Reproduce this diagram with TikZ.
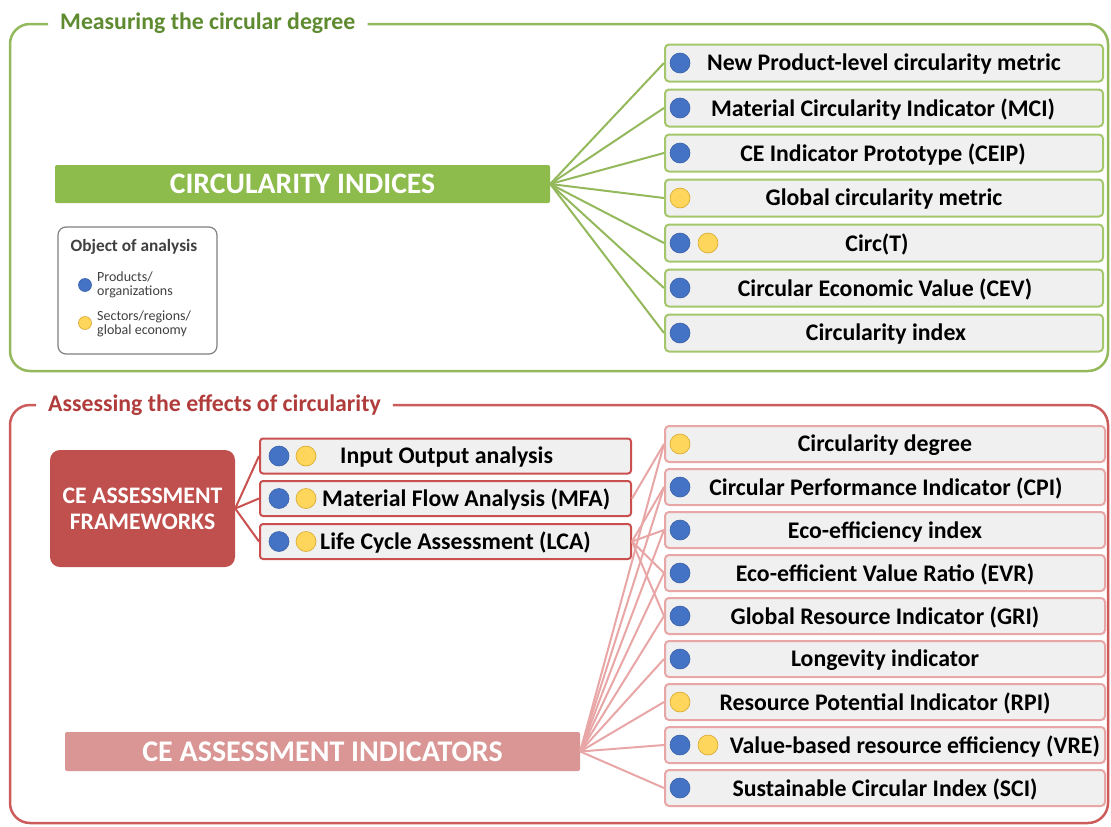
\documentclass[tikz,border=0pt]{standalone}
\usepackage{fontspec}
\setmainfont{Carlito}
\definecolor{gline}{HTML}{94B85C}
\definecolor{gtitle}{HTML}{5E8A30}
\definecolor{gfill}{HTML}{8DBB4C}
\definecolor{gbox}{HTML}{A3C76A}
\definecolor{boxfill}{HTML}{F0F0F0}
\definecolor{rline}{HTML}{CC5C5C}
\definecolor{rtitle}{HTML}{B03C3C}
\definecolor{rfill}{HTML}{C0504D}
\definecolor{rbox}{HTML}{C9504F}
\definecolor{pfill}{HTML}{D99694}
\definecolor{pline}{HTML}{E8A6A6}
\definecolor{dblue}{HTML}{4472C4}
\definecolor{dblueb}{HTML}{3A62A8}
\definecolor{dyellow}{HTML}{FFD65C}
\definecolor{dyellowb}{HTML}{D4A82A}
\definecolor{legtext}{HTML}{404040}
\begin{document}
\begin{tikzpicture}[x=1pt,y=-1pt,
  frametitle/.style={font=\fontsize{23.8}{26}\selectfont\bfseries, inner xsep=12pt, inner ysep=0pt, yshift=-1.5pt},
  gbx/.style={draw=gbox, fill=boxfill, line width=2pt, rounded corners=4pt, minimum width=438pt, minimum height=37pt, inner sep=0pt},
  pbx/.style={draw=pline, fill=boxfill, line width=2pt, rounded corners=4pt, minimum width=440pt, minimum height=36pt, inner sep=0pt},
  fbx/.style={draw=rbox, fill=boxfill, line width=2pt, rounded corners=3pt, minimum width=371pt, minimum height=35pt, inner sep=0pt},
  btxt/.style={font=\fontsize{23.8}{26}\selectfont\bfseries, text=black, inner sep=0pt, yshift=-1.5pt},
  bdot/.style={circle, fill=dblue, draw=dblueb, line width=0.6pt, minimum size=20pt, inner sep=0pt},
  ydot/.style={circle, fill=dyellow, draw=dyellowb, line width=0.6pt, minimum size=20pt, inner sep=0pt},
  gcon/.style={draw=gline, line width=2pt},
  pcon/.style={draw=pline, line width=2pt},
  rcon/.style={draw=rbox, line width=2pt},
]
\useasboundingbox (0,0) rectangle (1111,827);

% ---------- top frame ----------
\node[frametitle, text=gtitle, anchor=west] (t1) at (48,22) {Measuring the circular degree};
\draw[draw=gline, line width=2.5pt, rounded corners=20pt]
  (t1.west |- 0,24) -- (10,24) -- (10,371) -- (1108,371) -- (1108,24) -- (t1.east |- 0,24);

\node[fill=gfill, minimum width=495pt, minimum height=38pt, inner sep=0pt, rounded corners=2pt,
      text=white, font=\fontsize{29.7}{32}\selectfont\bfseries] (ci) at (302.5,184) {CIRCULARITY INDICES};

% legend
\node[draw=gray, line width=1.2pt, fill=white, rounded corners=8pt, minimum width=159pt, minimum height=127pt] (leg) at (137.5,290.5) {};
\node[font=\fontsize{17.3}{19}\selectfont\bfseries, text=legtext, inner sep=0pt] (legt) at (134,247) {Object of analysis};
\node[bdot, minimum size=13pt] (lb) at (85,285) {};
\node[ydot, minimum size=13pt] (ly) at (85,323) {};
\node[anchor=west, align=left, font=\fontsize{14}{13.5}\selectfont, text=legtext, inner sep=0pt] (lbt) at (97,285) {Products/\\organizations};
\node[anchor=west, align=left, font=\fontsize{14}{13.5}\selectfont, text=legtext, inner sep=0pt] (lyt) at (97,324) {Sectors/regions/\\global economy};

% green items
\node[gbx] (g1) at (884,63) {};
\node[gbx] (g2) at (884,108) {};
\node[gbx] (g3) at (884,153) {};
\node[gbx] (g4) at (884,198) {};
\node[gbx] (g5) at (884,243) {};
\node[gbx] (g6) at (884,288) {};
\node[gbx] (g7) at (884,333) {};
\foreach \i in {1,...,7} {\draw[gcon] (ci.east) -- (g\i.west);}
\node[bdot] (g1d) at (680,63) {};
\node[bdot] (g2d) at (680,108) {};
\node[bdot] (g3d) at (680,153) {};
\node[ydot] (g4d) at (680,198) {};
\node[bdot] (g5d) at (680,243) {};
\node[ydot] (g5e) at (708,243) {};
\node[bdot] (g6d) at (680,288) {};
\node[bdot] (g7d) at (680,333) {};
\node[btxt] (g1t) at (884,63) {New Product-level circularity metric};
\node[btxt] (g2t) at (883,108) {Material Circularity Indicator (MCI)};
\node[btxt] (g3t) at (883,153) {CE Indicator Prototype (CEIP)};
\node[btxt] (g4t) at (884,198) {Global circularity metric};
\node[btxt] (g5t) at (877,243) {Circ(T)};
\node[btxt] (g6t) at (885,288) {Circular Economic Value (CEV)};
\node[btxt] (g7t) at (886,333) {Circularity index};

% ---------- bottom frame ----------
\node[frametitle, text=rtitle, anchor=west] (t2) at (36,404) {Assessing the effects of circularity};
\draw[draw=rline, line width=2.5pt, rounded corners=20pt]
  (t2.west |- 0,405) -- (10,405) -- (10,823) -- (1108,823) -- (1108,405) -- (t2.east |- 0,405);

\node[fill=rfill, minimum width=185pt, minimum height=117pt, inner sep=0pt, rounded corners=10pt,
      text=white, align=center, font=\fontsize{23.7}{26}\selectfont\bfseries] (fw) at (142.5,508.5) {CE ASSESSMENT\\FRAMEWORKS};

\node[fbx] (f1) at (445.5,456) {};
\node[fbx] (f2) at (445.5,498.5) {};
\node[fbx] (f3) at (445.5,541.5) {};
\foreach \i in {1,2,3} {\draw[rcon] (fw.east) -- (f\i.west);}
\node[bdot] (f1d) at (279,456) {};
\node[ydot] (f1e) at (306,456) {};
\node[bdot] (f2d) at (279,498.5) {};
\node[ydot] (f2e) at (306,498.5) {};
\node[bdot] (f3d) at (279,541.5) {};
\node[ydot] (f3e) at (306,541.5) {};
\node[btxt, anchor=west] (f1t) at (340,456) {Input Output analysis};
\node[btxt, anchor=west] (f2t) at (322,498.5) {Material Flow Analysis (MFA)};
\node[btxt, anchor=west] (f3t) at (320,541.5) {Life Cycle Assessment (LCA)};

\node[fill=pfill, minimum width=515pt, minimum height=39pt, inner sep=0pt, rounded corners=2pt,
      text=white, font=\fontsize{30}{32}\selectfont\bfseries] (ind) at (322.5,751.5) {CE ASSESSMENT INDICATORS};

% pink items
\node[pbx] (p1) at (885,444) {};
\node[pbx] (p2) at (885,487) {};
\node[pbx] (p3) at (885,530) {};
\node[pbx] (p4) at (885,573) {};
\node[pbx] (p5) at (885,616) {};
\node[pbx] (p6) at (885,659) {};
\node[pbx] (p7) at (885,702) {};
\node[pbx] (p8) at (885,745) {};
\node[pbx] (p9) at (885,788) {};
\foreach \i in {1,...,9} {\draw[pcon] (ind.east) -- (p\i.west);}
\draw[pcon] (f2.east) -- (p1.west);
\foreach \i in {2,...,5} {\draw[pcon] (f3.east) -- (p\i.west);}
\node[ydot] (p1d) at (680,444) {};
\node[bdot] (p2d) at (680,487) {};
\node[bdot] (p3d) at (680,530) {};
\node[bdot] (p4d) at (680,573) {};
\node[bdot] (p5d) at (680,616) {};
\node[bdot] (p6d) at (680,659) {};
\node[ydot] (p7d) at (680,702) {};
\node[bdot] (p8d) at (680,745) {};
\node[ydot] (p8e) at (708,745) {};
\node[bdot] (p9d) at (680,788) {};
\node[btxt] (p1t) at (885,444) {Circularity degree};
\node[btxt] (p2t) at (886,487) {Circular Performance Indicator (CPI)};
\node[btxt] (p3t) at (885,530) {Eco-efficiency index};
\node[btxt] (p4t) at (885,573) {Eco-efficient Value Ratio (EVR)};
\node[btxt] (p5t) at (885,616) {Global Resource Indicator (GRI)};
\node[btxt] (p6t) at (885,659) {Longevity indicator};
\node[btxt] (p7t) at (885,702) {Resource Potential Indicator (RPI)};
\node[btxt] (p8t) at (915,745) {Value-based resource efficiency (VRE)};
\node[btxt] (p9t) at (885,788) {Sustainable Circular Index (SCI)};
\end{tikzpicture}
\end{document}
